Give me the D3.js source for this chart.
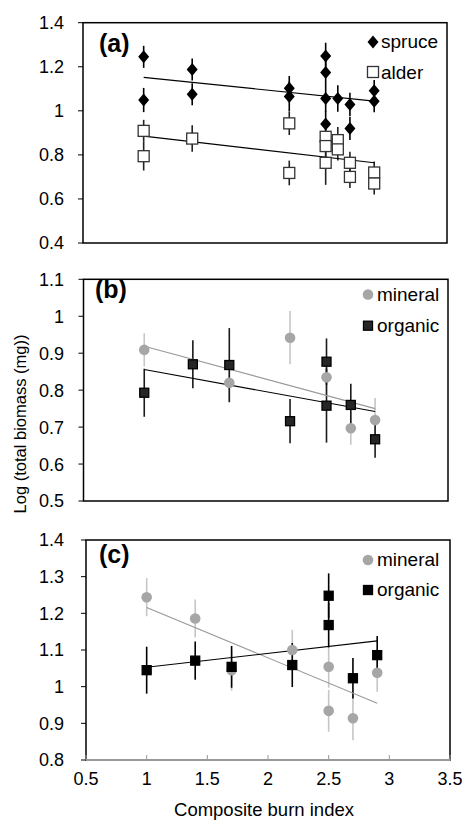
<!DOCTYPE html>
<html>
<head>
<meta charset="utf-8">
<script src="https://cdn.jsdelivr.net/npm/d3@7"></script>
<style>
  body { margin: 0; background: #fff; }
  svg { display: block; font-family: "Liberation Sans", Arial, sans-serif; }
</style>
</head>
<body>
<div id="grafico"></div>
<script>
// ---- dados ----

// painel (a) - spruce / alder
const spruce_x   = [1, 1, 1.4, 1.4, 2.2, 2.2, 2.5, 2.5, 2.5, 2.5, 2.6, 2.7, 2.7, 2.9, 2.9];
const spruce_y   = [1.245, 1.049, 1.188, 1.075, 1.102, 1.065, 1.249, 1.174, 1.056, 0.94, 1.056, 1.029, 0.92, 1.091, 1.044];
const spruce_err = [0.05, 0.055, 0.05, 0.05, 0.056, 0.068, 0.06, 0.06, 0.06, 0.06, 0.06, 0.053, 0.053, 0.049, 0.05];

const alder_x   = [1, 1, 1.4, 2.2, 2.2, 2.5, 2.5, 2.5, 2.6, 2.6, 2.7, 2.7, 2.9, 2.9];
const alder_y   = [0.909, 0.794, 0.874, 0.943, 0.718, 0.882, 0.84, 0.764, 0.867, 0.825, 0.764, 0.70, 0.72, 0.67];
const alder_err = [0.05, 0.065, 0.06, 0.053, 0.056, 0.05, 0.05, 0.1, 0.06, 0.05, 0.05, 0.05, 0.05, 0.05];

// painel (b) - mineral / organic
const mineral_b_x   = [1, 1.7, 2.2, 2.5, 2.7, 2.9];
const mineral_b_y   = [0.909, 0.82, 0.942, 0.835, 0.697, 0.719];
const mineral_b_err = [0.045, 0.055, 0.072, 0.05, 0.045, 0.06];

const organic_b_x   = [1, 1.4, 1.7, 2.2, 2.5, 2.5, 2.7, 2.9];
const organic_b_y   = [0.793, 0.870, 0.868, 0.716, 0.877, 0.758, 0.76, 0.667];
const organic_b_err = [0.065, 0.065, 0.10, 0.06, 0.063, 0.10, 0.057, 0.05];

// painel (c) - mineral / organic
const mineral_c_x   = [1, 1.4, 1.7, 2.2, 2.5, 2.5, 2.7, 2.9];
const mineral_c_y   = [1.244, 1.186, 1.045, 1.10, 1.054, 0.934, 0.914, 1.038];
const mineral_c_err = [0.052, 0.052, 0.056, 0.055, 0.057, 0.057, 0.06, 0.052];

const organic_c_x   = [1, 1.4, 1.7, 2.2, 2.5, 2.5, 2.7, 2.9];
const organic_c_y   = [1.045, 1.071, 1.054, 1.059, 1.248, 1.168, 1.023, 1.086];
const organic_c_err = [0.064, 0.052, 0.057, 0.06, 0.061, 0.061, 0.055, 0.052];

// retas de regressao (valor em x = 1 e x = 2.9)
const reta_x       = [1, 2.9];
const reta_spruce  = [1.152, 1.044];
const reta_alder   = [0.885, 0.764];
const reta_min_b   = [0.919, 0.75];
const reta_org_b   = [0.856, 0.742];
const reta_min_c   = [1.216, 0.955];
const reta_org_c   = [1.053, 1.125];

// ticks
const ticks_a = [0.4, 0.6, 0.8, 1, 1.2, 1.4];
const ticks_b = [0.5, 0.6, 0.7, 0.8, 0.9, 1, 1.1];
const ticks_c = [0.8, 0.9, 1, 1.1, 1.2, 1.3, 1.4];
const ticks_x = [0.5, 1, 1.5, 2, 2.5, 3, 3.5];

// ---- svg ----
const W = 465, H = 822;
const $svg = d3.select("#grafico").append("svg")
  .attr("width", W)
  .attr("height", H);

const junta = (xs, ys, es) => xs.map((x, i) => ({ x: x, y: ys[i], e: es[i] }));

// simbolos
const diamante = (w, h) => `M0,${-h/2}L${w/2},0L0,${h/2}L${-w/2},0Z`;

const paineis = [
  {
    rotulo: "(a)", x0: 83, x1: 447, top: 22.7, bottom: 243,
    dominio: [0.4, 1.4], ticks: ticks_a, rot_x: 99, rot_y: 51.5,
    series: [
      { dados: junta(spruce_x, spruce_y, spruce_err), simbolo: "diamante", fill: "#000", stroke: "none", cor_erro: "#000", nome: "spruce", reta: reta_spruce, cor_reta: "#000" },
      { dados: junta(alder_x, alder_y, alder_err), simbolo: "quadrado", lado: 11, fill: "#fff", stroke: "#333", cor_erro: "#222", nome: "alder", reta: reta_alder, cor_reta: "#000" }
    ],
    legenda: [ { cx: 373, cy: 42, tx: 381, ty: 47.5 }, { cx: 373, cy: 72, tx: 381, ty: 78.5 } ]
  },
  {
    rotulo: "(b)", x0: 83.5, x1: 448, top: 279.3, bottom: 501,
    dominio: [0.5, 1.1], ticks: ticks_b, rot_x: 95, rot_y: 298,
    series: [
      { dados: junta(mineral_b_x, mineral_b_y, mineral_b_err), simbolo: "circulo", fill: "#a6a6a6", stroke: "none", cor_erro: "#c6c6c6", nome: "mineral", reta: reta_min_b, cor_reta: "#999" },
      { dados: junta(organic_b_x, organic_b_y, organic_b_err), simbolo: "quadrado", lado: 9, fill: "#262626", stroke: "#000", cor_erro: "#1a1a1a", nome: "organic", reta: reta_org_b, cor_reta: "#000" }
    ],
    legenda: [ { cx: 368, cy: 294.5, tx: 377, ty: 301 }, { cx: 368, cy: 325.7, tx: 377, ty: 332 } ]
  },
  {
    rotulo: "(c)", x0: 86, x1: 450, top: 540, bottom: 760,
    dominio: [0.8, 1.4], ticks: ticks_c, rot_x: 99, rot_y: 563, eixo_x: true,
    series: [
      { dados: junta(mineral_c_x, mineral_c_y, mineral_c_err), simbolo: "circulo", fill: "#a6a6a6", stroke: "none", cor_erro: "#c6c6c6", nome: "mineral", reta: reta_min_c, cor_reta: "#999" },
      { dados: junta(organic_c_x, organic_c_y, organic_c_err), simbolo: "quadrado", lado: 9, fill: "#000", stroke: "#000", cor_erro: "#000", nome: "organic", reta: reta_org_c, cor_reta: "#000" }
    ],
    legenda: [ { cx: 368, cy: 560, tx: 377, ty: 566 }, { cx: 368, cy: 590, tx: 377, ty: 596 } ]
  }
];

const desenha_simbolo = function($g, s) {
  if (s.simbolo === "diamante") {
    $g.append("path").attr("d", diamante(11, 13)).attr("fill", s.fill);
  } else if (s.simbolo === "quadrado") {
    $g.append("rect")
      .attr("x", -s.lado / 2).attr("y", -s.lado / 2)
      .attr("width", s.lado).attr("height", s.lado)
      .attr("fill", s.fill).attr("stroke", s.stroke).attr("stroke-width", 1.3);
  } else {
    $g.append("circle").attr("r", 5.3).attr("fill", s.fill);
  }
};

const desenha_painel = function(p) {
  const scale_x = d3.scaleLinear().domain([0.5, 3.5]).range([p.x0, p.x1]);
  const scale_y = d3.scaleLinear().domain(p.dominio).range([p.bottom, p.top]);
  const $g = $svg.append("g");

  // moldura
  $g.append("rect")
    .attr("x", p.x0).attr("y", p.top)
    .attr("width", p.x1 - p.x0).attr("height", p.bottom - p.top)
    .attr("fill", "none").attr("stroke", "#000").attr("stroke-width", 1.5);

  // eixo y
  const $ticks = $g.selectAll("g.tick-y").data(p.ticks).enter()
    .append("g").attr("transform", d => `translate(0,${scale_y(d)})`);
  $ticks.append("line")
    .attr("x1", p.x0 - 5).attr("x2", p.x0)
    .attr("stroke", "#000").attr("stroke-width", 1);
  $ticks.append("text")
    .attr("x", 64).attr("dy", "0.36em")
    .attr("text-anchor", "end")
    .attr("font-size", 18)
    .text(d => d3.format("~g")(d));

  // eixo x (so no painel c)
  if (p.eixo_x) {
    $g.append("line")
      .attr("x1", p.x0).attr("x2", p.x1)
      .attr("y1", p.bottom).attr("y2", p.bottom)
      .attr("stroke", "#999").attr("stroke-width", 2);
    const $tx = $g.selectAll("g.tick-x").data(ticks_x).enter()
      .append("g").attr("transform", d => `translate(${scale_x(d)},0)`);
    $tx.append("line")
      .attr("y1", p.bottom - 5).attr("y2", p.bottom)
      .attr("stroke", "#999").attr("stroke-width", 1);
    $tx.append("text")
      .attr("y", 785).attr("text-anchor", "middle")
      .attr("font-size", 18)
      .text(d => d3.format("~g")(d));
  }

  // barras de erro
  p.series.forEach(s => {
    $g.selectAll(null).data(s.dados).enter()
      .append("line")
      .attr("x1", d => scale_x(d.x)).attr("x2", d => scale_x(d.x))
      .attr("y1", d => scale_y(d.y - d.e)).attr("y2", d => scale_y(d.y + d.e))
      .attr("stroke", s.cor_erro).attr("stroke-width", 1.6);
  });

  // retas
  p.series.forEach(s => {
    $g.append("line")
      .attr("x1", scale_x(reta_x[0])).attr("y1", scale_y(s.reta[0]))
      .attr("x2", scale_x(reta_x[1])).attr("y2", scale_y(s.reta[1]))
      .attr("stroke", s.cor_reta).attr("stroke-width", 1.1);
  });

  // pontos
  p.series.forEach(s => {
    s.dados.forEach(d => {
      const $m = $g.append("g").attr("transform", `translate(${scale_x(d.x)},${scale_y(d.y)})`);
      desenha_simbolo($m, s);
    });
  });

  // legenda
  p.series.forEach((s, i) => {
    const l = p.legenda[i];
    const $m = $g.append("g").attr("transform", `translate(${l.cx},${l.cy})`);
    desenha_simbolo($m, s);
    $g.append("text")
      .attr("x", l.tx).attr("y", l.ty)
      .attr("font-size", 19)
      .text(s.nome);
  });

  // rotulo do painel
  $g.append("text")
    .attr("x", p.rot_x).attr("y", p.rot_y)
    .attr("font-size", 25).attr("font-weight", "bold")
    .text(p.rotulo);
};

paineis.forEach(desenha_painel);

// titulos dos eixos
$svg.append("text")
  .attr("transform", "translate(26,424) rotate(-90)")
  .attr("text-anchor", "middle")
  .attr("font-size", 16.5)
  .text("Log (total biomass (mg))");

$svg.append("text")
  .attr("x", 264).attr("y", 816)
  .attr("text-anchor", "middle")
  .attr("font-size", 18.5)
  .text("Composite burn index");
</script>
</body>
</html>
